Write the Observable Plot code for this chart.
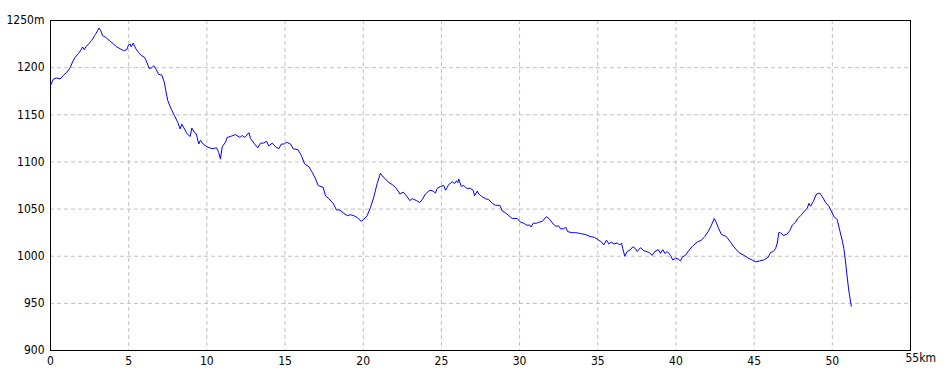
<!DOCTYPE html>
<html>
<head>
<meta charset="utf-8">
<script src="https://cdn.jsdelivr.net/npm/d3@7"></script>
<script src="https://cdn.jsdelivr.net/npm/@observablehq/plot@0.6"></script>
<style>
  html, body { margin: 0; padding: 0; background: #fff; }
</style>
</head>
<body>
<div id="chart"></div>
<script>
// Distance along the route (km)
const distanceKm = [
  0.00, 0.19, 0.40, 0.62, 0.83, 1.04, 1.26, 1.41, 1.58, 1.79, 1.96, 2.05, 2.16, 2.26, 2.43, 2.64, 2.86, 3.11, 3.22, 3.33,
  3.54, 3.82, 4.03, 4.24, 4.46, 4.67, 4.88, 4.99, 5.10, 5.16, 5.29, 5.46, 5.63, 5.80, 6.01, 6.16, 6.31, 6.48, 6.61, 6.73,
  6.91, 7.12, 7.27, 7.37, 7.50, 7.72, 7.93, 8.14, 8.29, 8.40, 8.57, 8.72, 8.93, 9.04, 9.21, 9.32, 9.48, 9.59, 9.76, 10.02,
  10.34, 10.62, 10.76, 10.87, 10.98, 11.19, 11.30, 11.51, 11.83, 12.11, 12.26, 12.43, 12.69, 12.79, 13.05, 13.26, 13.43, 13.64, 13.81, 13.96,
  14.18, 14.39, 14.60, 14.77, 14.97, 15.09, 15.35, 15.52, 15.82, 16.04, 16.25, 16.52, 16.74, 16.95, 17.12, 17.44, 17.59, 17.80, 18.08, 18.29,
  18.50, 18.72, 18.98, 19.19, 19.40, 19.62, 19.87, 20.04, 20.25, 20.47, 20.68, 20.89, 21.10, 21.28, 21.42, 21.64, 21.85, 22.06, 22.28, 22.34,
  22.56, 22.77, 22.98, 23.13, 23.41, 23.62, 23.77, 23.98, 24.26, 24.48, 24.62, 24.73, 24.94, 25.15, 25.26, 25.47, 25.69, 25.84, 25.97, 26.05,
  26.11, 26.27, 26.43, 26.61, 26.86, 27.03, 27.12, 27.29, 27.39, 27.61, 27.82, 28.03, 28.25, 28.46, 28.74, 28.89, 29.10, 29.31, 29.53, 29.85,
  30.06, 30.27, 30.44, 30.65, 30.74, 30.87, 31.08, 31.23, 31.45, 31.72, 31.93, 32.15, 32.30, 32.51, 32.62, 32.83, 32.94, 33.08, 33.37, 33.58,
  33.90, 34.22, 34.49, 34.79, 35.07, 35.24, 35.38, 35.56, 35.71, 35.86, 36.03, 36.24, 36.41, 36.52, 36.60, 36.73, 36.88, 37.09, 37.24, 37.41,
  37.52, 37.73, 37.94, 38.27, 38.48, 38.65, 38.87, 39.01, 39.16, 39.29, 39.44, 39.65, 39.80, 39.97, 40.14, 40.29, 40.40, 40.61, 40.82, 41.08,
  41.36, 41.63, 41.85, 42.06, 42.27, 42.45, 42.57, 42.74, 42.91, 43.21, 43.49, 43.70, 44.02, 44.34, 44.62, 44.88, 45.09, 45.34, 45.62, 45.90,
  46.05, 46.22, 46.37, 46.48, 46.58, 46.69, 46.86, 47.07, 47.28, 47.44, 47.65, 47.79, 47.97, 48.18, 48.40, 48.50, 48.61, 48.78, 48.99, 49.20,
  49.36, 49.57, 49.78, 49.93, 50.10, 50.31, 50.48, 50.63, 50.74, 50.84, 50.95, 51.05, 51.21
];
// Elevation (m)
const elevationM = [
  1181, 1188, 1189, 1188, 1192, 1195, 1200, 1206, 1211, 1215, 1219, 1222, 1219, 1222, 1225, 1229, 1235, 1242, 1239, 1234,
  1232, 1228, 1225, 1222, 1220, 1218, 1219, 1224, 1225, 1222, 1226, 1220, 1216, 1213, 1211, 1206, 1199, 1200, 1202, 1199,
  1193, 1192, 1185, 1176, 1165, 1156, 1149, 1142, 1135, 1140, 1135, 1130, 1127, 1136, 1131, 1130, 1119, 1123, 1119, 1116,
  1114, 1115, 1110, 1103, 1116, 1121, 1126, 1127, 1129, 1126, 1128, 1126, 1131, 1125, 1119, 1115, 1120, 1120, 1122, 1117,
  1120, 1116, 1114, 1119, 1119, 1121, 1119, 1114, 1113, 1107, 1098, 1095, 1089, 1082, 1075, 1073, 1064, 1061, 1056, 1049,
  1049, 1046, 1043, 1044, 1043, 1041, 1037, 1039, 1043, 1052, 1063, 1077, 1088, 1084, 1082, 1078, 1076, 1073, 1068, 1066,
  1068, 1064, 1059, 1061, 1059, 1057, 1060, 1066, 1070, 1069, 1067, 1072, 1074, 1075, 1070, 1076, 1079, 1077, 1080, 1078,
  1082, 1074, 1075, 1072, 1072, 1070, 1064, 1069, 1066, 1063, 1061, 1060, 1056, 1054, 1054, 1048, 1046, 1043, 1040, 1040,
  1036, 1035, 1033, 1033, 1031, 1035, 1035, 1036, 1037, 1042, 1039, 1034, 1032, 1032, 1029, 1029, 1031, 1026, 1025, 1025,
  1024, 1023, 1021, 1020, 1017, 1015, 1012, 1017, 1013, 1015, 1013, 1014, 1012, 1014, 1008, 1000, 1005, 1007, 1010, 1008,
  1005, 1009, 1006, 1004, 1001, 1005, 1007, 1003, 1007, 1003, 1005, 1001, 996, 998, 997, 995, 999, 1001, 1006, 1011,
  1015, 1017, 1021, 1026, 1033, 1040, 1036, 1029, 1023, 1021, 1015, 1010, 1004, 1001, 998, 996, 994, 995, 996, 999,
  1004, 1005, 1008, 1014, 1025, 1025, 1022, 1023, 1027, 1033, 1036, 1040, 1043, 1047, 1051, 1056, 1053, 1058, 1066, 1067,
  1063, 1057, 1053, 1048, 1042, 1039, 1027, 1017, 1008, 995, 978, 964, 947
];
// Axis ticks
const xTicks = [0, 5, 10, 15, 20, 25, 30, 35, 40, 45, 50];
const xEndLabel = "55km";
const yTicks = [900, 950, 1000, 1050, 1100, 1150, 1200, 1250];
const yTopLabel = "1250m";

const profile = distanceKm.map((d, i) => ({km: d, m: elevationM[i]}));

const font = "'Liberation Sans Narrow', 'DejaVu Sans Condensed', 'Liberation Sans', sans-serif";

const chart = Plot.plot({
  width: 950,
  height: 380,
  marginLeft: 50,
  marginRight: 40,
  marginTop: 20,
  marginBottom: 30,
  style: {background: "#fff", fontFamily: font, fontSize: "12px", color: "#000", fontStretch: "condensed"},
  x: {domain: [0, 55]},
  y: {domain: [900, 1250]},
  marks: [
    Plot.ruleX(xTicks.filter(d => d > 0), {stroke: "#c0c0c0", strokeDasharray: "4,3", strokeWidth: 1}),
    Plot.ruleY(yTicks.filter(d => d > 900 && d < 1250), {stroke: "#c0c0c0", strokeDasharray: "4,3", strokeWidth: 1}),
    Plot.frame({stroke: "#000", strokeWidth: 1}),
    Plot.axisX({ticks: xTicks, tickSize: 0, tickPadding: 6, label: null, fontSize: 12, fill: "#000"}),
    Plot.text([55], {x: d => d, frameAnchor: "bottom", text: () => xEndLabel, textAnchor: "start", dx: -5, dy: 11, fontSize: 12, fill: "#000"}),
    Plot.axisY({ticks: yTicks, tickSize: 0, tickPadding: 6, label: null, fontSize: 12, fill: "#000",
      tickFormat: d => d === 1250 ? yTopLabel : String(d)}),
    Plot.line(profile, {x: "km", y: "m", stroke: "#0000ff", strokeWidth: 1})
  ]
});
document.getElementById("chart").appendChild(chart);
</script>
</body>
</html>
